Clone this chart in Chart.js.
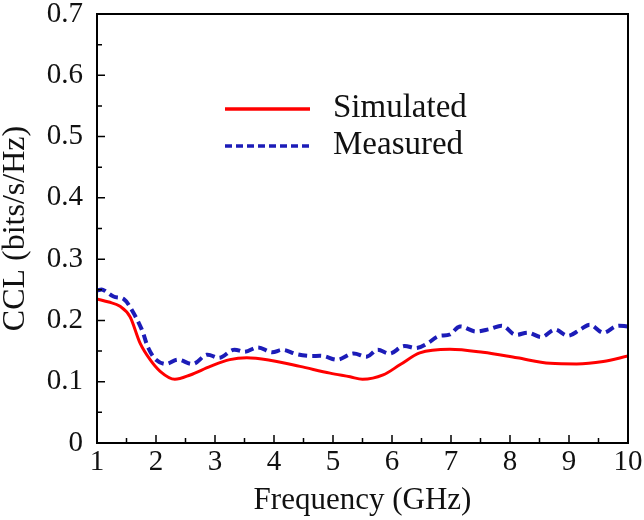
<!DOCTYPE html>
<html>
<head>
<meta charset="utf-8">
<script src="https://cdn.jsdelivr.net/npm/chart.js@4"></script>
<style>
  html, body { margin: 0; padding: 0; background: #fff; }
  #wrap { width: 644px; height: 520px; }
</style>
</head>
<body>
<div id="wrap"><canvas id="ccl" width="644" height="520"></canvas></div>
<script>
// values
const simFreq = [1.0, 1.2, 1.39, 1.56, 1.73, 1.9, 2.07, 2.32, 2.58, 2.92, 3.25, 3.54, 3.93, 4.44, 4.95, 5.29, 5.5, 5.85, 6.14, 6.47, 6.98, 7.54, 8.12, 8.68, 9.13, 9.58, 10.0];
const simulated = [0.235, 0.23, 0.223, 0.206, 0.163, 0.136, 0.117, 0.104, 0.111, 0.125, 0.136, 0.139, 0.135, 0.125, 0.114, 0.108, 0.104, 0.111, 0.128, 0.147, 0.153, 0.148, 0.139, 0.130, 0.129, 0.133, 0.142];

const measFreq = [1.0, 1.1, 1.28, 1.45, 1.59, 1.76, 1.87, 2.0, 2.17, 2.37, 2.63, 2.86, 3.08, 3.31, 3.51, 3.73, 3.96, 4.15, 4.38, 4.61, 4.83, 5.08, 5.34, 5.58, 5.75, 5.97, 6.19, 6.42, 6.61, 6.78, 6.98, 7.15, 7.41, 7.66, 7.88, 8.08, 8.31, 8.54, 8.76, 8.98, 9.19, 9.36, 9.58, 9.81, 10.0];
const measured = [0.249, 0.25, 0.239, 0.235, 0.217, 0.185, 0.155, 0.136, 0.129, 0.136, 0.129, 0.144, 0.139, 0.152, 0.149, 0.156, 0.148, 0.152, 0.145, 0.142, 0.142, 0.136, 0.146, 0.141, 0.152, 0.146, 0.158, 0.155, 0.163, 0.174, 0.177, 0.190, 0.182, 0.186, 0.191, 0.177, 0.180, 0.173, 0.185, 0.175, 0.185, 0.193, 0.180, 0.191, 0.19];

const xTicks = [1, 2, 3, 4, 5, 6, 7, 8, 9, 10];
const yTicks = [0, 0.1, 0.2, 0.3, 0.4, 0.5, 0.6, 0.7];

const FONT = '"Liberation Serif", "Times New Roman", serif';

// frame, inward ticks and in-plot legend
const framePlugin = {
  id: 'frame',
  afterDatasetsDraw(chart) {
    const { ctx, chartArea: a, scales } = chart;
    const xs = scales.x, ys = scales.y;
    ctx.save();
    ctx.strokeStyle = '#000';
    ctx.lineWidth = 2;
    ctx.strokeRect(a.left, a.top, a.right - a.left, a.bottom - a.top);

    ctx.lineWidth = 1.5;
    ctx.beginPath();
    for (let v = 1; v <= 10.001; v += 0.5) {
      const px = xs.getPixelForValue(v);
      const len = Math.abs(v - Math.round(v)) < 1e-6 ? 8 : 5;
      ctx.moveTo(px, a.bottom); ctx.lineTo(px, a.bottom - len);
    }
    for (let v = 0; v <= 0.7001; v += 0.05) {
      const py = ys.getPixelForValue(v);
      const len = Math.abs(v * 10 - Math.round(v * 10)) < 1e-6 ? 8 : 5;
      ctx.moveTo(a.left, py); ctx.lineTo(a.left + len, py);
    }
    ctx.stroke();

    // legend
    const rows = [109, 146];
    chart.data.datasets.forEach((ds, i) => {
      const y = rows[i];
      ctx.strokeStyle = ds.borderColor;
      ctx.lineWidth = 3.5;
      ctx.setLineDash(ds.borderDash ? [7, 4] : []);
      ctx.beginPath();
      ctx.moveTo(225, y); ctx.lineTo(310, y);
      ctx.stroke();
      ctx.setLineDash([]);
      ctx.fillStyle = '#111';
      ctx.font = '33px ' + FONT;
      ctx.textBaseline = 'alphabetic';
      ctx.fillText(ds.label, 333, y + 8);
    });
    ctx.restore();
  }
};

new Chart(document.getElementById('ccl'), {
  type: 'line',
  data: {
    datasets: [
      {
        label: 'Simulated',
        data: simFreq.map((f, i) => ({ x: f, y: simulated[i] })),
        borderColor: '#ff0000',
        borderWidth: 3,
        pointRadius: 0,
        cubicInterpolationMode: 'monotone'
      },
      {
        label: 'Measured',
        data: measFreq.map((f, i) => ({ x: f, y: measured[i] })),
        borderColor: '#1c1cb8',
        borderWidth: 4,
        borderDash: [9, 5],
        pointRadius: 0,
        tension: 0.35
      }
    ]
  },
  options: {
    responsive: false,
    animation: false,
    layout: { padding: { top: 14, right: 16, left: 0, bottom: 0 } },
    plugins: { legend: { display: false }, tooltip: { enabled: false } },
    scales: {
      x: {
        type: 'linear',
        min: 1, max: 10,
        grid: { display: false, drawTicks: false },
        border: { display: false },
        afterBuildTicks: s => { s.ticks = xTicks.map(v => ({ value: v })); },
        ticks: { color: '#111', font: { family: FONT, size: 29, lineHeight: 1 }, padding: 5, maxRotation: 0 },
        title: { display: true, text: 'Frequency (GHz)', color: '#111', font: { family: FONT, size: 31, lineHeight: 1 }, padding: { top: 0, bottom: 4 } },
        afterFit: s => { s.height = 77; s.paddingLeft = 0; s.paddingRight = 0; }
      },
      y: {
        min: 0, max: 0.7,
        grid: { display: false, drawTicks: false },
        border: { display: false },
        afterBuildTicks: s => { s.ticks = yTicks.map(v => ({ value: v })); },
        ticks: { color: '#111', font: { family: FONT, size: 29, lineHeight: 1 }, padding: 14, callback: v => String(+v.toFixed(1)) },
        title: { display: true, text: 'CCL (bits/s/Hz)', color: '#111', font: { family: FONT, size: 32, lineHeight: 1 }, padding: { top: 0, bottom: 0 } },
        afterFit: s => { s.width = 97; s.paddingTop = 0; s.paddingBottom = 0; }
      }
    }
  },
  plugins: [framePlugin]
});
</script>
</body>
</html>
